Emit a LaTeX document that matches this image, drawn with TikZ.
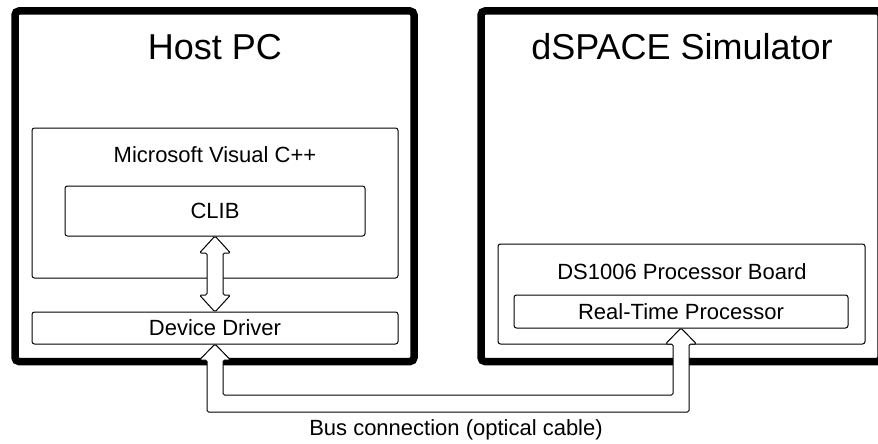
\documentclass[tikz,border=0pt]{standalone}
\usepackage{fontspec}
\setmainfont{Liberation Sans}
\usetikzlibrary{calc}
\begin{document}
\begin{tikzpicture}[x=1pt,y=-1pt,
  outerbox/.style={draw=black, line width=7.5pt, rounded corners=4pt, inner sep=0pt, outer sep=0pt},
  innerbox/.style={draw=black, line width=1pt, rounded corners=2.5pt, inner sep=0pt, outer sep=0pt, fill=white},
  title/.style={font=\fontsize{36}{40}\selectfont, inner sep=0pt},
  lbl/.style={font=\fontsize{22}{26}\selectfont, inner sep=0pt},
  fatarrow/.style={draw=black, fill=white, line width=1pt, rounded corners=1.5pt, line join=round}]
\useasboundingbox (0,0) rectangle (878,444);
\clip (0,0) rectangle (878,444);
% outer boxes
\node[outerbox, minimum width=399pt, minimum height=350.5pt] (host) at (214.5,186.25) {};
\node[outerbox, minimum width=400pt, minimum height=350.5pt] (sim) at (681,186.25) {};
\node[title] (hosttitle) at (215,47) {Host PC};
\node[title] (simtitle) at (682,47) {dSPACE Simulator};
% host contents
\node[innerbox, minimum width=366pt, minimum height=150pt] (vc) at (215,203) {};
\node[lbl] (vctext) at (215,155) {Microsoft Visual C++};
\node[innerbox, minimum width=300pt, minimum height=50pt] (clib) at (215,211) {};
\node[lbl] (clibtext) at (215,211) {CLIB};
\node[innerbox, minimum width=366pt, minimum height=32pt] (dd) at (215,328) {};
\node[lbl] (ddtext) at (215,328) {Device Driver};
% simulator contents
\node[innerbox, minimum width=367pt, minimum height=100pt] (board) at (681.5,294) {};
\node[lbl] (boardtext) at (682,272) {DS1006 Processor Board};
\node[innerbox, minimum width=334pt, minimum height=33pt] (rtp) at (681,311.5) {};
\node[lbl] (rtptext) at (681,312) {Real-Time Processor};
% double arrow CLIB <-> Device Driver
\draw[fatarrow] (clib.south)
  -- ($(clib.south)+(15.5,17)$) -- ($(clib.south)+(8,17)$)
  -- ($(dd.north)+(8,-17)$) -- ($(dd.north)+(15.5,-17)$)
  -- (dd.north)
  -- ($(dd.north)+(-15.5,-17)$) -- ($(dd.north)+(-8,-17)$)
  -- ($(clib.south)+(-8,17)$) -- ($(clib.south)+(-15.5,17)$)
  -- cycle;
% bus connection
\draw[fatarrow] (dd.south)
  -- ($(dd.south)+(15.5,16)$) -- ($(dd.south)+(8,16)$)
  -- ($(dd.south)+(8,51)$) -- ($(rtp.south)+(-8,67)$)
  -- ($(rtp.south)+(-8,16)$) -- ($(rtp.south)+(-15.5,16)$)
  -- (rtp.south)
  -- ($(rtp.south)+(15.5,16)$) -- ($(rtp.south)+(8,16)$)
  -- ($(rtp.south)+(8,84)$) -- ($(dd.south)+(-8,68)$)
  -- ($(dd.south)+(-8,16)$) -- ($(dd.south)+(-15.5,16)$)
  -- cycle;
\node[lbl] (buslabel) at (456,430) {Bus connection (optical cable)};
\end{tikzpicture}
\end{document}
